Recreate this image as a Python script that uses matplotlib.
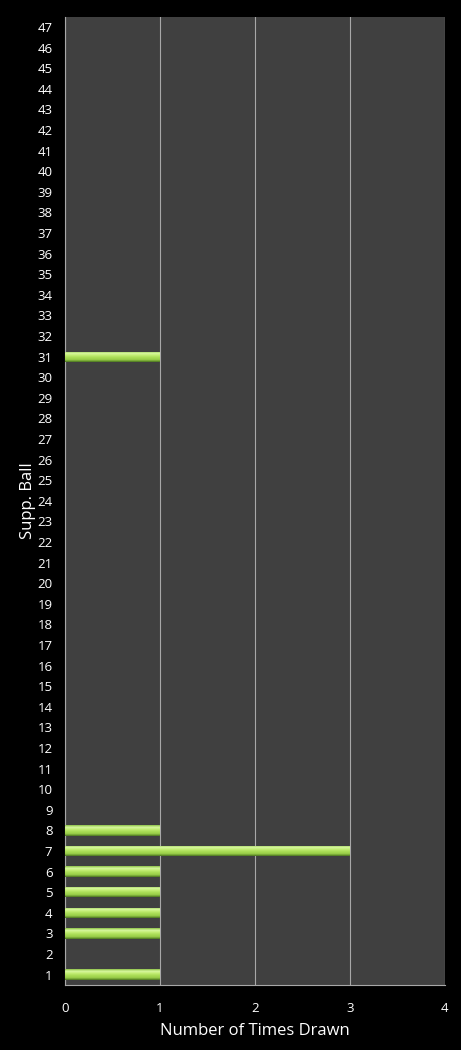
import numpy as np
import matplotlib.pyplot as plt
from matplotlib.colors import LinearSegmentedColormap

# Supplementary ball numbers and how often each was drawn
balls = list(range(1, 48))
times_drawn = [1, 0, 1, 1, 1, 1, 3, 1] + [0] * 22 + [1] + [0] * 16
x_ticks = [0, 1, 2, 3, 4]

plt.rcParams['font.family'] = ['Open Sans', 'DejaVu Sans']

fig = plt.figure(figsize=(4.61, 10.5), dpi=100, facecolor='black')
ax = fig.add_axes([0.141, 0.062, 0.824, 0.922])
ax.set_facecolor('#404040')

bars = ax.barh(balls, times_drawn, height=0.5, color='#a6d850', zorder=2)

# gradient fill for each bar (top row first: light top, dark bottom edge)
grad = LinearSegmentedColormap.from_list(
    'g', ['#8cc048', '#d8f8a0', '#c0ec70', '#a8dc55', '#98cc48', '#4a7420'])
g = np.linspace(0, 1, 64).reshape(-1, 1)
for b in bars:
    if b.get_width() == 0:
        continue
    x0, y0 = b.get_x(), b.get_y()
    im = ax.imshow(g, cmap=grad, aspect='auto', zorder=3,
                   extent=[x0, x0 + b.get_width(), y0, y0 + b.get_height()])
    im.set_clip_path(b)

ax.set_xlim(0, 4)
ax.set_ylim(0.5, 47.5)
ax.set_xticks(x_ticks)
ax.set_yticks(balls)
ax.tick_params(colors='white', labelsize=9.5, length=0)
ax.tick_params(axis='x', pad=12)
ax.tick_params(axis='y', pad=9)
ax.grid(axis='x', color='#a8a8a8', linewidth=0.8, zorder=1)
for s in ['top', 'right']:
    ax.spines[s].set_visible(False)
for s in ['left', 'bottom']:
    ax.spines[s].set_color('#a8a8a8')

ax.set_xlabel('Number of Times Drawn', color='white', fontsize=12, labelpad=6)
ax.set_ylabel('Supp. Ball', color='white', fontsize=12, labelpad=1)

fig.savefig('out.png', dpi=100, facecolor='black')
